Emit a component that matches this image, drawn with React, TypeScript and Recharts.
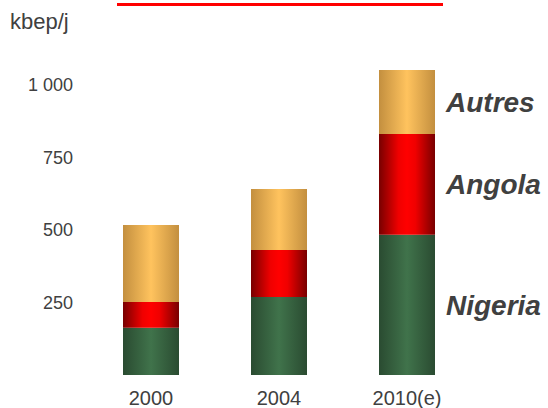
import React from "react";
import { BarChart, Bar, XAxis, YAxis, LabelList } from "recharts";

const categories = ["2000", "2004", "2010(e)"];
const nigeria = [163, 269, 484];
const angola = [89, 162, 347];
const autres = [265, 210, 221];
const yTicks = [250, 500, 750, 1000];
const seriesNames = ["Nigeria", "Angola", "Autres"];

const data = categories.map((c, i) => ({
  cat: c,
  nigeria: nigeria[i],
  angola: angola[i],
  autres: autres[i],
}));

const FONT = "Liberation Sans, Arial, sans-serif";

const fmt = (v: number) => (v >= 1000 ? `${Math.floor(v / 1000)} ${String(v % 1000).padStart(3, "0")}` : String(v));

const makeLabel = (name: string) => (props: any) => {
  const { x, y, width, height, index } = props;
  if (index !== categories.length - 1) return null;
  return (
    <text
      x={Number(x) + Number(width) + 11}
      y={Number(y) + Number(height) / 2}
      dy="0.36em"
      fontFamily={FONT}
      fontSize={28}
      fontWeight="bold"
      fontStyle="italic"
      fill="#404040"
    >
      {name}
    </text>
  );
};

const YTick = (props: any) => {
  const { y, payload } = props;
  return (
    <text x={73} y={y} dy="0.36em" textAnchor="end" fontFamily={FONT} fontSize={18} fill="#404040">
      {fmt(payload.value)}
    </text>
  );
};

export default function App() {
  return (
    <div style={{ position: "absolute", left: 0, top: 0, width: 548, height: 408, background: "#fff" }}>
      <div style={{ position: "absolute", left: 117, top: 3, width: 326, height: 3, background: "#ff0000" }} />
      <div
        style={{
          position: "absolute",
          left: 10,
          top: 9,
          fontFamily: FONT,
          fontSize: 22,
          lineHeight: "26px",
          color: "#404040",
        }}
      >
        kbep/j
      </div>
      <BarChart width={548} height={408} data={data} margin={{ top: 27, right: 77, bottom: 0, left: 0 }} barCategoryGap={0}>
        <defs>
          <linearGradient id="gAutres" x1="0" y1="0" x2="1" y2="0">
            <stop offset="0%" stopColor="#c38f3f" />
            <stop offset="50%" stopColor="#ffc35e" />
            <stop offset="100%" stopColor="#c38f3f" />
          </linearGradient>
          <linearGradient id="gAngola" x1="0" y1="0" x2="1" y2="0">
            <stop offset="0%" stopColor="#780000" />
            <stop offset="35%" stopColor="#f00000" />
            <stop offset="50%" stopColor="#ff0000" />
            <stop offset="65%" stopColor="#f00000" />
            <stop offset="100%" stopColor="#780000" />
          </linearGradient>
          <linearGradient id="gNigeria" x1="0" y1="0" x2="1" y2="0">
            <stop offset="0%" stopColor="#2a4b31" />
            <stop offset="50%" stopColor="#40734b" />
            <stop offset="100%" stopColor="#2a4b31" />
          </linearGradient>
        </defs>
        <XAxis
          dataKey="cat"
          height={33}
          axisLine={false}
          tickLine={false}
          tick={{ fontFamily: FONT, fontSize: 20, fill: "#404040" }}
          tickMargin={10}
          interval={0}
        />
        <YAxis
          width={87}
          domain={[0, 1200]}
          ticks={yTicks}
          axisLine={false}
          tickLine={false}
          tick={<YTick />}
        />
        <Bar dataKey="nigeria" name={seriesNames[0]} stackId="a" fill="url(#gNigeria)" barSize={56} isAnimationActive={false}>
          <LabelList content={makeLabel(seriesNames[0])} />
        </Bar>
        <Bar dataKey="angola" name={seriesNames[1]} stackId="a" fill="url(#gAngola)" barSize={56} isAnimationActive={false}>
          <LabelList content={makeLabel(seriesNames[1])} />
        </Bar>
        <Bar dataKey="autres" name={seriesNames[2]} stackId="a" fill="url(#gAutres)" barSize={56} isAnimationActive={false}>
          <LabelList content={makeLabel(seriesNames[2])} />
        </Bar>
      </BarChart>
    </div>
  );
}
